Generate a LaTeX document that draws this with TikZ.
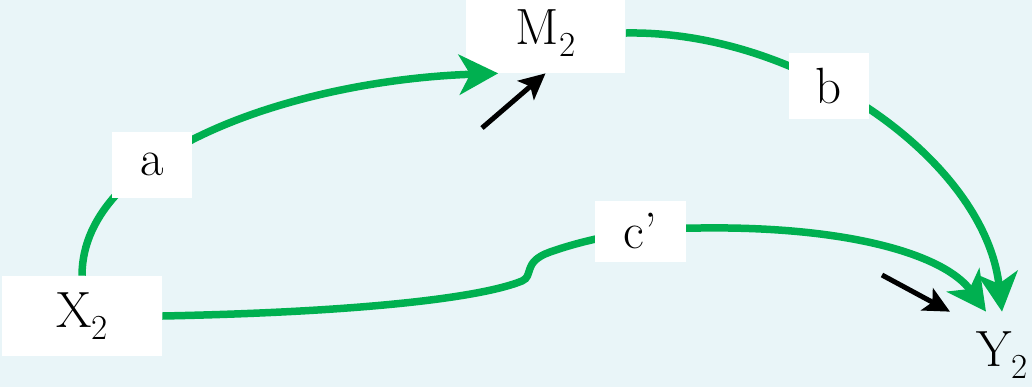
\documentclass[tikz,border=0pt]{standalone}
\usetikzlibrary{arrows.meta,calc,positioning}
\definecolor{paleblue}{HTML}{E9F5F8}
\definecolor{pathgreen}{HTML}{00B050}
\newcommand{\lowsub}[1]{\raisebox{-0.24em}{\fontsize{20}{20}\selectfont #1}}

\begin{document}
\begin{tikzpicture}[x=0.02cm,y=-0.02cm,
  varbox/.style={fill=white,minimum width=3.2cm,minimum height=1.6cm,inner sep=0pt,font=\fontsize{29}{35}\selectfont},
  coefbox/.style={fill=white,text=black,minimum width=1.6cm,minimum height=1.32cm,inner sep=0pt,font=\fontsize{29}{35}\selectfont},
  effect/.style={pathgreen,line width=0.15cm,-{Stealth[length=0.78cm,width=0.8cm,inset=0.22cm]}},
  noise/.style={black,line width=0.1cm,-{Stealth[length=0.52cm,width=0.5cm,inset=0.12cm]}}]
  % Background
  \fill[paleblue] (0,0) rectangle (1032,387);
  \useasboundingbox (0,0) rectangle (1032,387);

  % Variables
  \node[varbox] (X2) at (82,316) {X\lowsub{2}};
  \node[varbox] (M2) at (545.5,33) {M\lowsub{2}};
  \node[varbox,fill=none,minimum height=1.72cm] (Y2) at (1002,355) {Y\lowsub{2}};

  % Path a: X2 -> M2
  \draw[effect] (X2.north) .. controls (82,150) and (300,80) ..
    node[coefbox,pos=0.35] (a) {a} ($(M2.south west)+(33,0)$);

  % Path b: M2 -> Y2
  \draw[effect] (M2.east) .. controls (800,30) and (985,160) ..
    node[coefbox,pos=0.4] (b) {b} (Y2.north);

  % Path c': X2 -> Y2 (direct)
  \draw[effect] (X2.east) .. controls (360,312) and (480,298) .. (522,281)
    .. controls (534,276) and (522,262) .. (550,252)
    .. controls (590,238) and (640,228) ..
    node[coefbox,pos=0.65,minimum width=1.82cm,minimum height=1.22cm] (c) {c’} (700,228)
    .. controls (850,226) and (945,255) .. ($(Y2.north)+(-16,0)$);

  % Error terms
  \coordinate (eM) at (482,128);
  \draw[noise] (eM) -- (M2.south);
  \coordinate (eY) at (882,275);
  \draw[noise] (eY) -- ($(Y2.north)+(-52,0)$);
\end{tikzpicture}
\end{document}
